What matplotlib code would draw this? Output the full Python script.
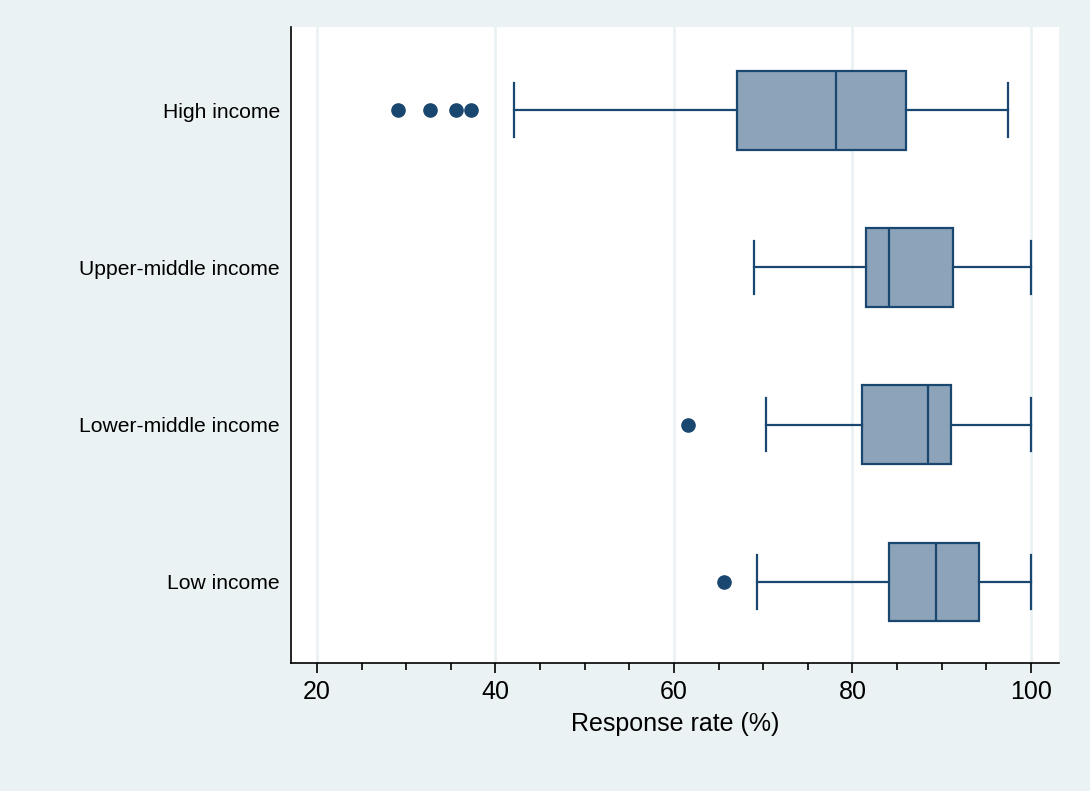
import matplotlib
matplotlib.use('Agg')
import matplotlib.pyplot as plt
import numpy as np

plt.rcParams['font.family'] = ['Liberation Sans', 'DejaVu Sans']

# income groups, bottom to top
groups = ['Low income', 'Lower-middle income', 'Upper-middle income', 'High income']

# five-number summaries (response rate, %)
whisker_lo = [69.3, 70.3, 69.0, 42.1]
q1 = [84.1, 81.1, 81.5, 67.1]
median = [89.4, 88.5, 84.1, 78.2]
q3 = [94.2, 91.0, 91.3, 86.0]
whisker_hi = [100.0, 100.0, 100.0, 97.4]

outliers = [
    [65.6],
    [61.6],
    [],
    [29.1, 32.7, 35.6, 37.3],
]

NAVY = '#1a476f'
FILL = '#8da3b9'
BG = '#eaf2f3'

stats = []
for i, g in enumerate(groups):
    stats.append({
        'label': g,
        'whislo': whisker_lo[i],
        'q1': q1[i],
        'med': median[i],
        'q3': q3[i],
        'whishi': whisker_hi[i],
        'fliers': outliers[i],
    })

fig = plt.figure(figsize=(10.9, 7.91), dpi=100, facecolor=BG)
ax = fig.add_axes([0.267, 0.162, 0.7046, 0.804])
ax.set_facecolor('white')

pos = np.arange(len(groups))
ax.bxp(stats, positions=pos, vert=False, widths=0.5, patch_artist=True,
       boxprops=dict(facecolor=FILL, edgecolor=NAVY, linewidth=1.6),
       medianprops=dict(color=NAVY, linewidth=1.6),
       whiskerprops=dict(color=NAVY, linewidth=1.6),
       capprops=dict(color=NAVY, linewidth=1.6),
       capwidths=0.34,
       flierprops=dict(marker='o', markerfacecolor=NAVY, markeredgecolor=NAVY,
                       markersize=9.5, linestyle='none'))

ax.set_xlim(17.1, 103.15)
ax.set_ylim(-0.515, 3.53)
ax.set_xticks([20, 40, 60, 80, 100])
ax.set_xticks(np.arange(25, 100, 5), minor=True)
ax.set_yticks(pos)
ax.set_yticklabels(groups, fontsize=15.2)
ax.tick_params(axis='y', length=0, pad=8)
ax.tick_params(axis='x', which='major', length=7, width=1.2, labelsize=18, pad=5)
ax.tick_params(axis='x', which='minor', length=5, width=1.2)

ax.grid(True, axis='x', color=BG, linewidth=2)
ax.set_axisbelow(True)

for s in ['top', 'right']:
    ax.spines[s].set_visible(False)
for s in ['left', 'bottom']:
    ax.spines[s].set_linewidth(1.2)

ax.set_xlabel('Response rate (%)', fontsize=18, labelpad=6)

fig.savefig('out.png', dpi=100, facecolor=BG)
